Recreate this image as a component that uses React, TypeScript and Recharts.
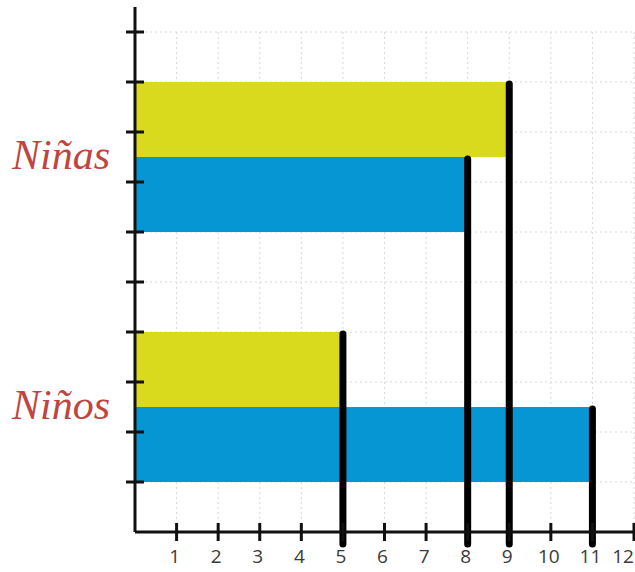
import { BarChart, Bar, XAxis, YAxis, CartesianGrid, ReferenceLine } from 'recharts';

const groups = ['Niñas', 'Niños'];
const yellowValues = [9, 5];
const blueValues = [8, 11];
const xTicks = [1, 2, 3, 4, 5, 6, 7, 8, 9, 10, 11, 12];
const yTicks = [1, 2, 3, 4, 5, 6, 7, 8, 9, 10];

const data = groups.map((name, i) => ({
  name,
  yellow: yellowValues[i],
  blue: blueValues[i],
}));

const CHART_W = 635;
const CHART_H = 572;
const MARGIN = { top: 32, right: 1, bottom: 0, left: 0 };
const XAXIS_H = 40;
const PLOT_BOTTOM = CHART_H - MARGIN.bottom - XAXIS_H;

const YELLOW = '#d9d91e';
const BLUE = '#0596d3';

// zero-width bar stacked on the end of a colour bar: only draws the black stick
function Stick(props: any) {
  const { x, y } = props;
  if (x == null || y == null) return null;
  return (
    <line
      x1={x}
      y1={y + 2}
      x2={x}
      y2={PLOT_BOTTOM + 12}
      stroke="#000"
      strokeWidth={7}
      strokeLinecap="round"
    />
  );
}

function XTick(props: any) {
  const { x, y, payload } = props;
  // keep the last label inside the picture
  const tx = Math.min(x - 2, CHART_W - 12);
  return (
    <g>
      <line x1={x} y1={y - 9} x2={x} y2={y + 9} stroke="#111" strokeWidth={3} />
      <text
        x={tx}
        y={y + 31}
        textAnchor="middle"
        fontSize={19}
        fill="#3a3a3a"
        fontFamily="'Open Sans', sans-serif"
      >
        {payload.value}
      </text>
    </g>
  );
}

function YTick(props: any) {
  const { x, y } = props;
  return <line x1={x - 9} y1={y} x2={x + 9} y2={y} stroke="#111" strokeWidth={3} />;
}

function GroupTick(props: any) {
  const { x, y, payload } = props;
  return (
    <text
      x={x}
      y={y}
      dy={12}
      textAnchor="end"
      fontSize={42}
      fill="#c0443f"
      fontStyle="italic"
      fontFamily="'Liberation Serif', serif"
    >
      {payload.value}
    </text>
  );
}

export default function App() {
  return (
    <div style={{ position: 'absolute', left: 0, top: 0, background: '#fff' }}>
      <BarChart
        width={CHART_W}
        height={CHART_H}
        data={data}
        layout="vertical"
        margin={MARGIN}
        barGap={0}
      >
        <CartesianGrid
          yAxisId="num"
          stroke="#d8d8d8"
          strokeDasharray="2 3"
          strokeWidth={1}
        />
        <XAxis
          type="number"
          domain={[0, 12]}
          ticks={xTicks}
          height={XAXIS_H}
          tickSize={0}
          tickMargin={0}
          axisLine={{ stroke: '#111', strokeWidth: 3 }}
          tick={<XTick />}
          interval={0}
        />
        <YAxis
          yAxisId="cat"
          type="category"
          dataKey="name"
          width={135}
          tickSize={0}
          tickMargin={25}
          axisLine={false}
          tickLine={false}
          tick={<GroupTick />}
        />
        <Bar yAxisId="cat" dataKey="yellow" stackId="y" fill={YELLOW} barSize={75} isAnimationActive={false} />
        <Bar yAxisId="cat" dataKey="blue" stackId="b" fill={BLUE} barSize={75} isAnimationActive={false} />
        <Bar yAxisId="cat" dataKey={() => 0} stackId="y" barSize={75} shape={<Stick />} isAnimationActive={false} />
        <Bar yAxisId="cat" dataKey={() => 0} stackId="b" barSize={75} shape={<Stick />} isAnimationActive={false} />
        {/* numeric scale only for the y tick marks and horizontal grid; vertical layout runs it top-down, so flip it */}
        <YAxis
          yAxisId="num"
          type="number"
          scale="linear"
          dataKey="yellow"
          domain={[0, 10]}
          allowDataOverflow
          reversed
          ticks={yTicks}
          mirror
          tickSize={0}
          tickMargin={0}
          axisLine={{ stroke: '#111', strokeWidth: 3 }}
          tick={<YTick />}
          interval={0}
        />
        <ReferenceLine
          yAxisId="num"
          segment={[{ x: 0, y: 10 }, { x: 0, y: 10.5 }]}
          stroke="#111"
          strokeWidth={3}
          ifOverflow="visible"
        />
      </BarChart>
    </div>
  );
}
